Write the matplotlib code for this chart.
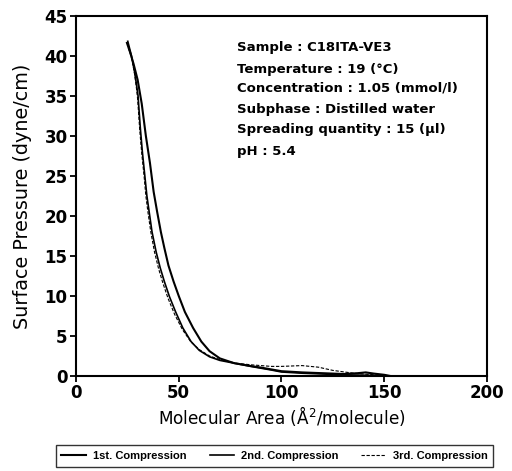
import numpy as np
import matplotlib
matplotlib.use("Agg")
import matplotlib.pyplot as plt

plt.rcParams['font.family'] = ['DejaVu Sans']

# 1st compression (outer curve)
area_1 = [24.8, 26.5, 28.0, 30.0, 32.0, 34.0, 36.0, 37.8, 39.5, 41.3, 43.0, 45.0,
          47.5, 50.0, 53.0, 57.0, 61.0, 65.0, 70.0, 77.0, 85.0, 90.0,
          100.0, 110.0, 120.0, 130.0, 137.0, 141.0, 145.0, 150.0, 153.0]
press_1 = [41.6, 40.3, 39.0, 37.0, 34.0, 30.0, 26.6, 23.0, 20.5, 18.0, 16.0, 13.8,
           11.8, 10.0, 8.0, 6.0, 4.3, 3.1, 2.2, 1.6, 1.25, 1.05,
           0.6, 0.45, 0.35, 0.25, 0.35, 0.45, 0.3, 0.15, 0.0]

# 2nd compression
area_2 = [25.2, 27.0, 28.5, 29.5, 30.2, 31.3, 32.3, 33.5, 34.5, 35.5, 37.0, 39.0,
          41.0, 43.0, 45.5, 48.5, 52.0, 56.0, 60.0, 65.0, 70.0, 77.0, 85.0,
          95.0, 100.0, 110.0, 120.0, 130.0, 140.0, 150.0, 153.0]
press_2 = [41.8, 40.0, 38.0, 36.3, 35.0, 31.0, 28.0, 25.0, 22.5, 20.7, 18.0, 15.5,
           13.5, 11.8, 9.9, 8.0, 6.0, 4.3, 3.2, 2.4, 1.95, 1.6, 1.2,
           0.75, 0.5, 0.35, 0.25, 0.15, 0.1, 0.05, 0.0]

# 3rd compression
area_3 = [25.5, 27.2, 28.6, 29.4, 30.0, 31.0, 32.0, 33.2, 34.0, 35.0, 36.4, 38.2,
          40.2, 42.3, 44.8, 48.0, 51.8, 55.8, 60.0, 65.0, 70.0, 78.0, 85.0,
          95.0, 100.0, 110.0, 118.0, 125.0, 135.0, 145.0, 152.0]
press_3 = [41.0, 39.6, 37.6, 36.0, 34.6, 30.8, 27.8, 24.8, 22.5, 20.5, 18.0, 15.5,
           13.4, 11.6, 9.7, 7.7, 5.8, 4.3, 3.3, 2.5, 2.05, 1.6, 1.4,
           1.2, 1.2, 1.3, 1.1, 0.7, 0.35, 0.15, 0.0]

info_lines = ["Sample : C18ITA-VE3",
              "Temperature : 19 (\u00b0C)",
              "Concentration : 1.05 (mmol/l)",
              "Subphase : Distilled water",
              "Spreading quantity : 15 (\u03bcl)",
              "pH : 5.4"]
info_y = [47, 69, 88, 110, 130, 152]  # pixel rows of the text lines

fig = plt.figure(figsize=(5.12, 4.71), dpi=100)
ax = fig.add_axes([0.1484, 0.2017, 0.8027, 0.765])

ax.plot(area_1, press_1, color='black', lw=1.5, label='1st. Compression')
ax.plot(area_2, press_2, color='black', lw=1.2, label='2nd. Compression')
ax.plot(area_3, press_3, color='black', lw=0.8, ls=(0, (3, 1.5)), label='3rd. Compression')

ax.set_xlim(0, 200)
ax.set_ylim(0, 45)
ax.set_xticks([0, 50, 100, 150, 200])
ax.set_yticks(range(0, 46, 5))
for s in ax.spines.values():
    s.set_linewidth(1.5)
ax.tick_params(direction='out', length=4, width=1.3, labelsize=12, pad=2)
for lab in ax.get_xticklabels() + ax.get_yticklabels():
    lab.set_fontweight('bold')

ax.set_xlabel('Molecular Area (\u00c5$^2$/molecule)', fontsize=12.2, labelpad=1)
ax.set_ylabel('Surface Pressure (dyne/cm)', fontsize=13.8, labelpad=9)

for txt, py in zip(info_lines, info_y):
    fig.text(237 / 512, 1 - py / 471, txt, fontsize=9.5, fontweight='bold',
             va='center', ha='left')

fig.legend(loc='upper center', bbox_to_anchor=(0.536, 0.066), ncol=3,
           frameon=True, fancybox=False, edgecolor='black',
           handlelength=2.2, handletextpad=0.6, columnspacing=2.1, borderpad=0.5,
           prop={'family': 'Liberation Sans', 'weight': 'bold', 'size': 8})

fig.savefig('out.png', dpi=100)
